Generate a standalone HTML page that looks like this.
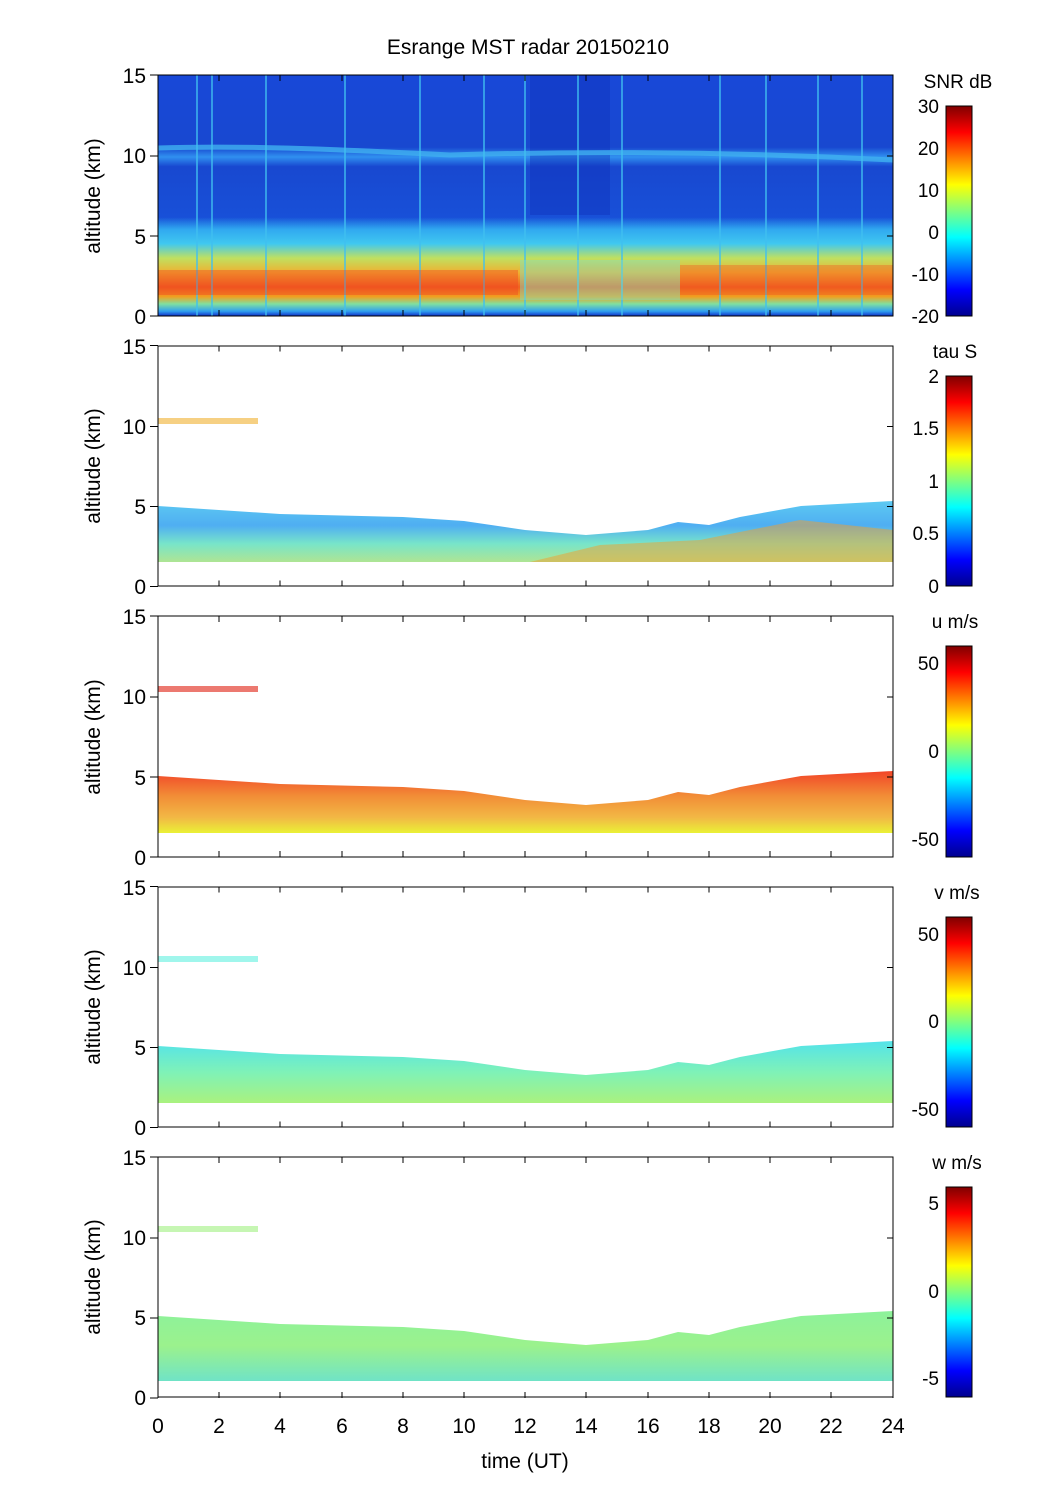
<!DOCTYPE html>
<html><head><meta charset="utf-8"><style>
body{margin:0;background:#fff}
svg{display:block}
text{font-family:"Liberation Sans",sans-serif;fill:#000}
</style></head><body>
<svg width="1051" height="1501" viewBox="0 0 1051 1501" xmlns="http://www.w3.org/2000/svg">
<defs>
<linearGradient id="jet" x1="0" y1="1" x2="0" y2="0">
<stop offset="0" stop-color="#00008f"/><stop offset="0.125" stop-color="#0000ff"/>
<stop offset="0.375" stop-color="#00ffff"/><stop offset="0.625" stop-color="#ffff00"/>
<stop offset="0.875" stop-color="#ff0000"/><stop offset="1" stop-color="#800000"/>
</linearGradient>
<linearGradient id="snr" x1="0" y1="1" x2="0" y2="0">
<stop offset="0" stop-color="#1030c8"/><stop offset="0.02" stop-color="#30a0f0"/>
<stop offset="0.05" stop-color="#80e0a0"/><stop offset="0.08" stop-color="#f0a020"/>
<stop offset="0.12" stop-color="#f06020"/><stop offset="0.18" stop-color="#f0b030"/>
<stop offset="0.24" stop-color="#c0e060"/><stop offset="0.3" stop-color="#40c8f0"/>
<stop offset="0.36" stop-color="#30a8f0"/><stop offset="0.41" stop-color="#1850d8"/>
<stop offset="0.62" stop-color="#1848d0"/><stop offset="0.66" stop-color="#3090f0"/>
<stop offset="0.7" stop-color="#1848d0"/><stop offset="1" stop-color="#1848d8"/>
</linearGradient>
<linearGradient id="gtau" x1="0" y1="0" x2="0" y2="1">
<stop offset="0" stop-color="#40c0f0"/><stop offset="0.4" stop-color="#30a0f0"/>
<stop offset="0.7" stop-color="#60e0c0"/><stop offset="1" stop-color="#a0e080"/>
</linearGradient>
<linearGradient id="gu" x1="0" y1="0" x2="0" y2="1">
<stop offset="0" stop-color="#f03010"/><stop offset="0.4" stop-color="#f08020"/>
<stop offset="0.75" stop-color="#f0b030"/><stop offset="1" stop-color="#e8f020"/>
</linearGradient>
<linearGradient id="gv" x1="0" y1="0" x2="0" y2="1">
<stop offset="0" stop-color="#40e0e8"/><stop offset="0.5" stop-color="#70f0b0"/>
<stop offset="1" stop-color="#a0f070"/>
</linearGradient>
<linearGradient id="gw" x1="0" y1="0" x2="0" y2="1">
<stop offset="0" stop-color="#80f090"/><stop offset="0.5" stop-color="#90f080"/>
<stop offset="1" stop-color="#60e0c0"/>
</linearGradient>
</defs>

<text x="528" y="54" font-size="21" text-anchor="middle">Esrange MST radar 20150210</text>

<rect x="158" y="75" width="735" height="241" fill="url(#snr)"/>
<rect x="530" y="75" width="80" height="140" fill="#1030b8" opacity="0.4"/>
<path d="M158,148 C250,145 350,150 450,155 C550,152 700,150 893,160" stroke="#40b0f0" stroke-width="5" fill="none" opacity="0.8"/>
<g stroke="#40c0f0" stroke-width="2" opacity="0.7">
<line x1="197" y1="75" x2="197" y2="316"/><line x1="212" y1="75" x2="212" y2="316"/><line x1="266" y1="75" x2="266" y2="316"/>
<line x1="345" y1="75" x2="345" y2="316"/><line x1="420" y1="75" x2="420" y2="316"/><line x1="484" y1="75" x2="484" y2="316"/>
<line x1="525" y1="75" x2="525" y2="316"/><line x1="578" y1="75" x2="578" y2="316"/><line x1="622" y1="75" x2="622" y2="316"/>
<line x1="720" y1="75" x2="720" y2="316"/><line x1="766" y1="75" x2="766" y2="316"/><line x1="818" y1="75" x2="818" y2="316"/>
<line x1="862" y1="75" x2="862" y2="316"/></g>
<rect x="158" y="270" width="360" height="25" fill="#f04020" opacity="0.4"/>
<rect x="680" y="265" width="213" height="30" fill="#f05020" opacity="0.35"/>
<rect x="520" y="260" width="160" height="40" fill="#80e0c0" opacity="0.45"/>

<rect x="158" y="418" width="100" height="6" fill="#f0b030" opacity="0.6"/>
<path d="M158,506 L280,514 L403,517 L464,521 L525,530 L586,535 L648,530 L678,522 L709,525 L740,517 L801,506 L893,501 L893,562 L158,562 Z" fill="url(#gtau)" opacity="0.85"/>
<path d="M530,562 L893,562 L893,530 L800,520 L700,540 L600,545 Z" fill="#f0a030" opacity="0.5"/>

<path d="M158,776 L280,784 L403,787 L464,791 L525,800 L586,805 L648,800 L678,792 L709,795 L740,787 L801,776 L893,771 L893,833 L158,833 Z" fill="url(#gu)" opacity="0.9"/>
<rect x="158" y="686" width="100" height="6" fill="#e02010" opacity="0.6"/>

<path d="M158,1046 L280,1054 L403,1057 L464,1061 L525,1070 L586,1075 L648,1070 L678,1062 L709,1065 L740,1057 L801,1046 L893,1041 L893,1103 L158,1103 Z" fill="url(#gv)" opacity="0.9"/>
<rect x="158" y="956" width="100" height="6" fill="#60f0e0" opacity="0.6"/>

<path d="M158,1316 L280,1324 L403,1327 L464,1331 L525,1340 L586,1345 L648,1340 L678,1332 L709,1335 L740,1327 L801,1316 L893,1311 L893,1381 L158,1381 Z" fill="url(#gw)" opacity="0.9"/>
<rect x="158" y="1226" width="100" height="6" fill="#a0f080" opacity="0.6"/>

<g fill="none" stroke="#000" stroke-width="1">
<rect x="158" y="75" width="735" height="241"/>
<rect x="158" y="346" width="735" height="240"/>
<rect x="158" y="616" width="735" height="241"/>
<rect x="158" y="887" width="735" height="240"/>
<rect x="158" y="1157" width="735" height="240"/>
</g>
<g stroke="#000" stroke-width="1">
<g id="xt">
<path d="M158,316v-6M219,316v-6M280,316v-6M342,316v-6M403,316v-6M464,316v-6M525,316v-6M586,316v-6M648,316v-6M709,316v-6M770,316v-6M831,316v-6M893,316v-6"/>
<path d="M158,75v6M219,75v6M280,75v6M342,75v6M403,75v6M464,75v6M525,75v6M586,75v6M648,75v6M709,75v6M770,75v6M831,75v6M893,75v6"/>
<path d="M150,75h8M150,156h8M150,236h8M150,316h8M893,156h-6M893,236h-6"/>
</g>
<use href="#xt" y="270.5"/><use href="#xt" y="541"/><use href="#xt" y="811.5"/><use href="#xt" y="1082"/>
</g>

<g font-size="21" text-anchor="end">
<text x="146" y="83">15</text><text x="146" y="163">10</text><text x="146" y="244">5</text><text x="146" y="324">0</text>
<text x="146" y="354">15</text><text x="146" y="434">10</text><text x="146" y="514">5</text><text x="146" y="594">0</text>
<text x="146" y="624">15</text><text x="146" y="704">10</text><text x="146" y="785">5</text><text x="146" y="865">0</text>
<text x="146" y="895">15</text><text x="146" y="975">10</text><text x="146" y="1055">5</text><text x="146" y="1135">0</text>
<text x="146" y="1165">15</text><text x="146" y="1245">10</text><text x="146" y="1325">5</text><text x="146" y="1405">0</text>
</g>
<g font-size="21" text-anchor="middle">
<text transform="translate(100,196) rotate(-90)">altitude (km)</text>
<text transform="translate(100,466) rotate(-90)">altitude (km)</text>
<text transform="translate(100,737) rotate(-90)">altitude (km)</text>
<text transform="translate(100,1007) rotate(-90)">altitude (km)</text>
<text transform="translate(100,1277) rotate(-90)">altitude (km)</text>
<text x="158" y="1433">0</text><text x="219" y="1433">2</text><text x="280" y="1433">4</text><text x="342" y="1433">6</text>
<text x="403" y="1433">8</text><text x="464" y="1433">10</text><text x="525" y="1433">12</text><text x="586" y="1433">14</text>
<text x="648" y="1433">16</text><text x="709" y="1433">18</text><text x="770" y="1433">20</text><text x="831" y="1433">22</text>
<text x="893" y="1433">24</text>
<text x="525" y="1468">time (UT)</text>
</g>

<g stroke="#000" stroke-width="1">
<rect x="946" y="106" width="26" height="210" fill="url(#jet)"/>
<rect x="946" y="376" width="26" height="210" fill="url(#jet)"/>
<rect x="946" y="646" width="26" height="211" fill="url(#jet)"/>
<rect x="946" y="917" width="26" height="210" fill="url(#jet)"/>
<rect x="946" y="1187" width="26" height="210" fill="url(#jet)"/>
</g>
<g font-size="19" text-anchor="middle">
<text x="958" y="88">SNR dB</text><text x="955" y="358">tau S</text><text x="955" y="628">u m/s</text>
<text x="957" y="899">v m/s</text><text x="957" y="1169">w m/s</text>
</g>
<g font-size="19" text-anchor="end">
<text x="939" y="113">30</text><text x="939" y="155">20</text><text x="939" y="197">10</text><text x="939" y="239">0</text>
<text x="939" y="281">-10</text><text x="939" y="323">-20</text>
<text x="939" y="383">2</text><text x="939" y="435">1.5</text><text x="939" y="488">1</text><text x="939" y="540">0.5</text><text x="939" y="593">0</text>
<text x="939" y="670">50</text><text x="939" y="758">0</text><text x="939" y="846">-50</text>
<text x="939" y="941">50</text><text x="939" y="1028">0</text><text x="939" y="1116">-50</text>
<text x="939" y="1210">5</text><text x="939" y="1298">0</text><text x="939" y="1385">-5</text>
</g>
</svg>
</body></html>
